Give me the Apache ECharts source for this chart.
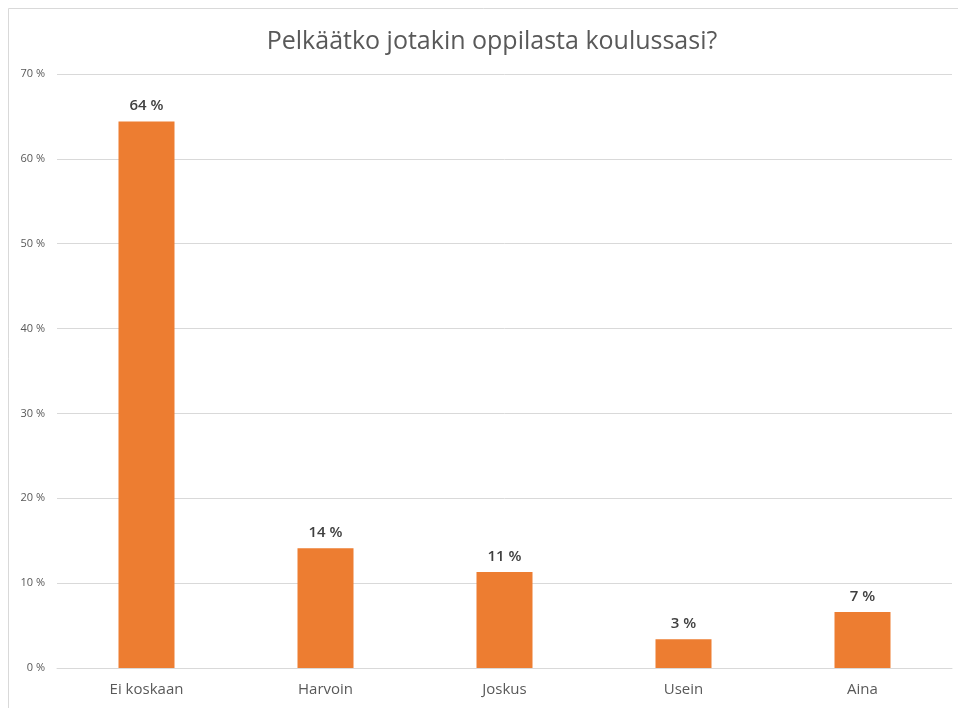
<!DOCTYPE html>
<html><head><meta charset="utf-8">
<script src="https://cdn.jsdelivr.net/npm/echarts@6/dist/echarts.min.js"></script>
<style>html,body{margin:0;padding:0;background:#fff}#c{width:958px;height:708px}</style>
</head><body><div id="c"></div>
<script>
const title = 'Pelkäätko jotakin oppilasta koulussasi?';
const categories = ['Ei koskaan', 'Harvoin', 'Joskus', 'Usein', 'Aina'];
const values = [64.4, 14.1, 11.3, 3.4, 6.6];
const yTicks = [0, 10, 20, 30, 40, 50, 60, 70];

const chart = echarts.init(document.getElementById('c'));
chart.setOption({
  animation: false,
  backgroundColor: '#fff',
  graphic: [
    {type: 'line', shape: {x1: 8.5, y1: 8.5, x2: 958, y2: 8.5}, style: {stroke: '#d9d9d9', lineWidth: 1}, silent: true},
    {type: 'line', shape: {x1: 8.5, y1: 8.5, x2: 8.5, y2: 708}, style: {stroke: '#d9d9d9', lineWidth: 1}, silent: true}
  ],
  title: {text: title, left: 487, textAlign: 'center', top: 24,
    textStyle: {fontFamily: 'Open Sans', fontSize: 25, fontWeight: 'normal', color: '#595959'}},
  grid: {left: 57, right: 6, top: 74, bottom: 40},
  xAxis: {type: 'category', data: categories,
    axisLine: {lineStyle: {color: '#d9d9d9'}}, axisTick: {show: false},
    axisLabel: {fontFamily: 'Open Sans', fontSize: 15, color: '#595959', margin: 14}},
  yAxis: {type: 'value', min: yTicks[0], max: yTicks[yTicks.length-1], interval: 10,
    axisLine: {show: false}, axisTick: {show: false},
    splitLine: {lineStyle: {color: '#d9d9d9'}},
    axisLabel: {fontFamily: 'Open Sans', fontSize: 11, color: '#595959', margin: 12,
      formatter: v => v + ' %'}},
  series: [{type: 'bar', data: values, barWidth: 56,
    itemStyle: {color: '#ED7D31'},
    label: {show: true, position: 'top', distance: 8, fontFamily: 'Open Sans', fontSize: 15,
      fontWeight: 600, color: '#404040', formatter: p => Math.round(p.value) + ' %'}}]
});
</script></body></html>
